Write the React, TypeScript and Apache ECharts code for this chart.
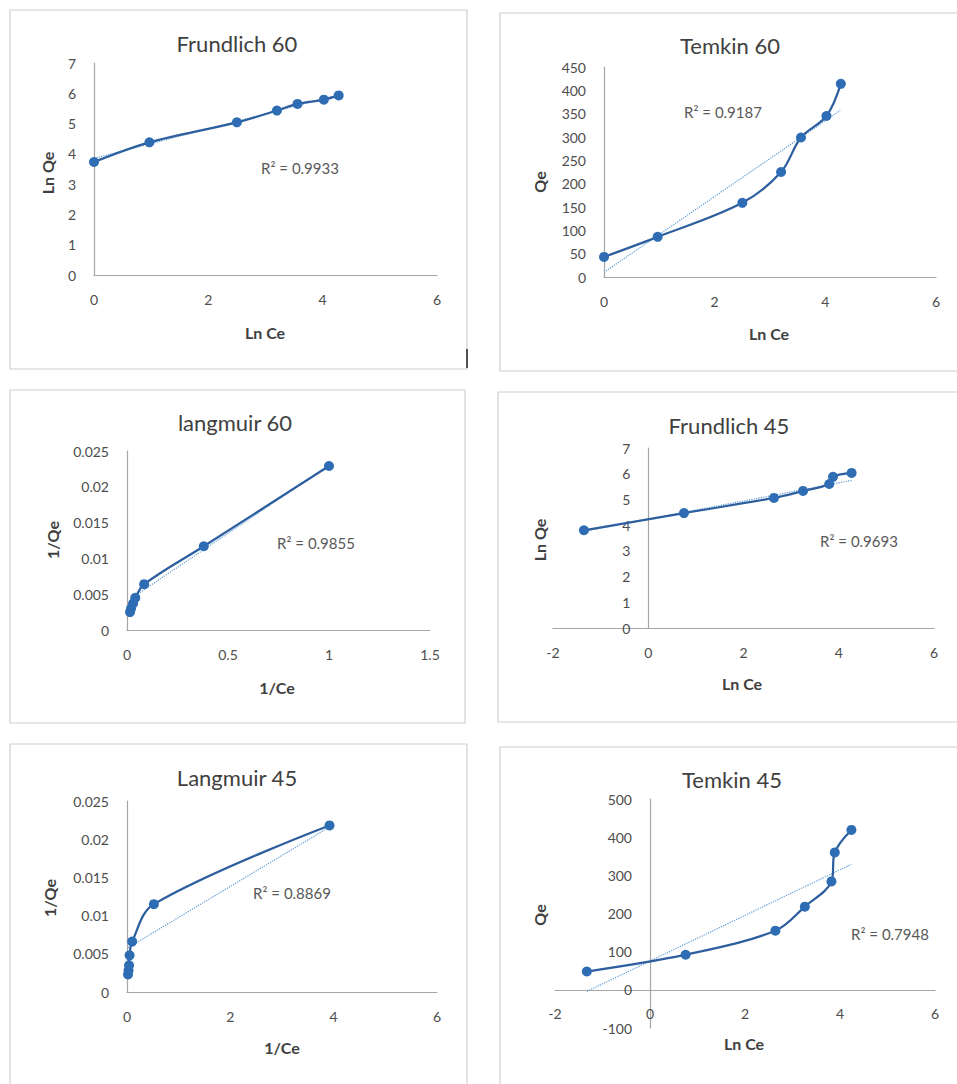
import { useEffect, useRef } from "react";
import * as echarts from "echarts";

// ---- data ----
const lnCe60 = [0, 0.97, 2.5, 3.2, 3.56, 4.02, 4.28];
const lnQe60 = [3.73, 4.38, 5.04, 5.43, 5.65, 5.79, 5.93];
const qe60 = [43, 86, 159, 225, 299, 345, 414];
const invCe60 = [1, 0.38, 0.085, 0.041, 0.03, 0.02, 0.015];
const invQe60 = [0.0229, 0.0117, 0.0064, 0.0045, 0.0037, 0.003, 0.0025];

const lnCe45F = [-1.35, 0.75, 2.64, 3.25, 3.8, 3.88, 4.27];
const lnQe45 = [3.8, 4.47, 5.06, 5.33, 5.6, 5.88, 6.03];
const lnCe45T = [-1.33, 0.75, 2.64, 3.26, 3.82, 3.89, 4.24];
const qe45 = [48, 92, 155, 218, 284, 360, 419];
const invCe45 = [3.92, 0.52, 0.1, 0.05, 0.04, 0.03, 0.02];
const invQe45 = [0.0218, 0.0115, 0.0066, 0.0048, 0.0035, 0.0028, 0.0023];

// linear trendlines (dotted), endpoints
const trendX0 = [0, 0, 0.015, -1.35, 0.02, -1.33];
const trendY0 = [3.85, 10, 0.0043, 3.76, 0.0058, -4];
const trendX1 = [4.28, 4.27, 1, 4.27, 3.92, 4.24];
const trendY1 = [5.95, 357, 0.023, 5.74, 0.0216, 329];

const titles = ["Frundlich 60", "Temkin 60", "langmuir 60", "Frundlich 45", "Langmuir 45", "Temkin 45"];
const r2Labels = ["R² = 0.9933", "R² = 0.9187", "R² = 0.9855", "R² = 0.9693", "R² = 0.8869", "R² = 0.7948"];
const xNames = ["Ln Ce", "Ln Ce", "1/Ce", "Ln Ce", "1/Ce", "Ln Ce"];
const yNames = ["Ln Qe", "Qe", "1/Qe", "Ln Qe", "1/Qe", "Qe"];
const xMin = [0, 0, 0, -2, 0, -2];
const xMax = [6, 6, 1.5, 6, 6, 6];
const xStep = [2, 2, 0.5, 2, 2, 2];
const yMin = [0, 0, 0, 0, 0, -100];
const yMax = [7, 450, 0.025, 7, 0.025, 500];
const yStep = [1, 50, 0.005, 1, 0.005, 100];

const seriesX = [lnCe60, lnCe60, invCe60, lnCe45F, invCe45, lnCe45T];
const seriesY = [lnQe60, qe60, invQe60, lnQe45, invQe45, qe45];

// ---- layout ----
const frames = [
  { x: 10, y: 10, w: 457, h: 359 },
  { x: 500, y: 13, w: 470, h: 358 },
  { x: 10, y: 390, w: 455, h: 333 },
  { x: 498, y: 392, w: 470, h: 330 },
  { x: 10, y: 744, w: 457, h: 350 },
  { x: 500, y: 747, w: 470, h: 350 },
];
const grids = [
  { left: 94, top: 63, width: 343, height: 212 },
  { left: 604, top: 67, width: 332, height: 210 },
  { left: 127, top: 451, width: 303, height: 179 },
  { left: 553, top: 448, width: 381, height: 180 },
  { left: 127, top: 801, width: 310, height: 191 },
  { left: 555, top: 799, width: 380, height: 229 },
];
const titlePos = [[237, 43], [730, 45], [235, 422], [729, 425], [237, 777], [732, 779]];
const r2Pos = [[300, 168], [723, 112], [316, 543], [859, 541], [292, 893], [890, 934]];
const xNamePos = [[265, 332], [769, 333], [277, 687], [742, 683], [282, 1047], [744, 1043]];
const yNamePos = [[47, 173], [539, 182], [52, 540], [539, 540], [49, 898], [539, 915]];

const FONT = "Lato, 'Open Sans', 'DejaVu Sans', sans-serif";
const BLUE = "#2E6DB4";
const LINE = "#2D5F9E";
const AXIS = "#a6a6a6";

export default function App() {
  const ref = useRef<HTMLDivElement>(null);
  useEffect(() => {
    if (!ref.current) return;
    const chart = echarts.init(ref.current, undefined, { renderer: "svg" });

    const graphic: any[] = [];
    frames.forEach((f) => {
      graphic.push({
        type: "rect",
        shape: { x: f.x, y: f.y, width: f.w, height: f.h },
        style: { fill: "#ffffff", stroke: "#cfcfcf", lineWidth: 1.2 },
        z: -10,
      });
    });
    graphic.push({
      type: "line",
      shape: { x1: 467, y1: 349, x2: 467, y2: 368 },
      style: { stroke: "#222", lineWidth: 1.5 },
    });
    titles.forEach((t, i) => {
      graphic.push({
        type: "text",
        x: titlePos[i][0],
        y: titlePos[i][1],
        style: { text: t, align: "center", verticalAlign: "middle", fontSize: 22, fontFamily: FONT, fill: "#404040" },
      });
      graphic.push({
        type: "text",
        x: r2Pos[i][0],
        y: r2Pos[i][1],
        style: { text: r2Labels[i], align: "center", verticalAlign: "middle", fontSize: 15, fontFamily: FONT, fill: "#595959" },
      });
      graphic.push({
        type: "text",
        x: xNamePos[i][0],
        y: xNamePos[i][1],
        style: { text: xNames[i], align: "center", verticalAlign: "middle", fontSize: 16, fontWeight: "bold", fontFamily: FONT, fill: "#404040" },
      });
      graphic.push({
        type: "text",
        x: yNamePos[i][0],
        y: yNamePos[i][1],
        rotation: Math.PI / 2,
        style: { text: yNames[i], align: "center", verticalAlign: "middle", fontSize: 16, fontWeight: "bold", fontFamily: FONT, fill: "#404040" },
      });
    });

    const series: any[] = [];
    titles.forEach((_, i) => {
      series.push({
        type: "line",
        xAxisIndex: i,
        yAxisIndex: i,
        data: seriesX[i].map((x, k) => [x, seriesY[i][k]]),
        smooth: 0.35,
        symbol: "circle",
        symbolSize: 10,
        itemStyle: { color: BLUE },
        lineStyle: { color: LINE, width: 2.25 },
        z: 3,
      });
      series.push({
        type: "line",
        xAxisIndex: i,
        yAxisIndex: i,
        data: [
          [trendX0[i], trendY0[i]],
          [trendX1[i], trendY1[i]],
        ],
        symbol: "none",
        lineStyle: { color: "#5B9BD5", width: 1.2, type: "dotted" },
        z: 2,
      });
    });

    const labelStyle = { fontSize: 14, color: "#4d4d4d", fontFamily: FONT };
    chart.setOption({
      animation: false,
      backgroundColor: "#ffffff",
      grid: grids.map((g) => ({ ...g, containLabel: false })),
      xAxis: titles.map((_, i) => ({
        type: "value",
        gridIndex: i,
        min: xMin[i],
        max: xMax[i],
        interval: xStep[i],
        // the x axis crosses the y axis at y = 0
        offset: -((0 - yMin[i]) / (yMax[i] - yMin[i])) * grids[i].height,
        axisLine: { onZero: false, lineStyle: { color: AXIS, width: 1.2 } },
        axisTick: { show: false },
        splitLine: { show: false },
        axisLabel: { ...labelStyle, margin: 17 },
      })),
      yAxis: titles.map((_, i) => ({
        type: "value",
        gridIndex: i,
        min: yMin[i],
        max: yMax[i],
        interval: yStep[i],
        // the y axis crosses the x axis at x = 0
        offset: -((0 - xMin[i]) / (xMax[i] - xMin[i])) * grids[i].width,
        axisLine: { show: true, onZero: false, lineStyle: { color: AXIS, width: 1.2 } },
        axisTick: { show: false },
        splitLine: { show: false },
        axisLabel: { ...labelStyle, margin: 18 },
      })),
      series,
      graphic,
    });
    return () => chart.dispose();
  }, []);
  return <div ref={ref} style={{ position: "absolute", left: 0, top: 0, width: 957, height: 1084 }} />;
}
